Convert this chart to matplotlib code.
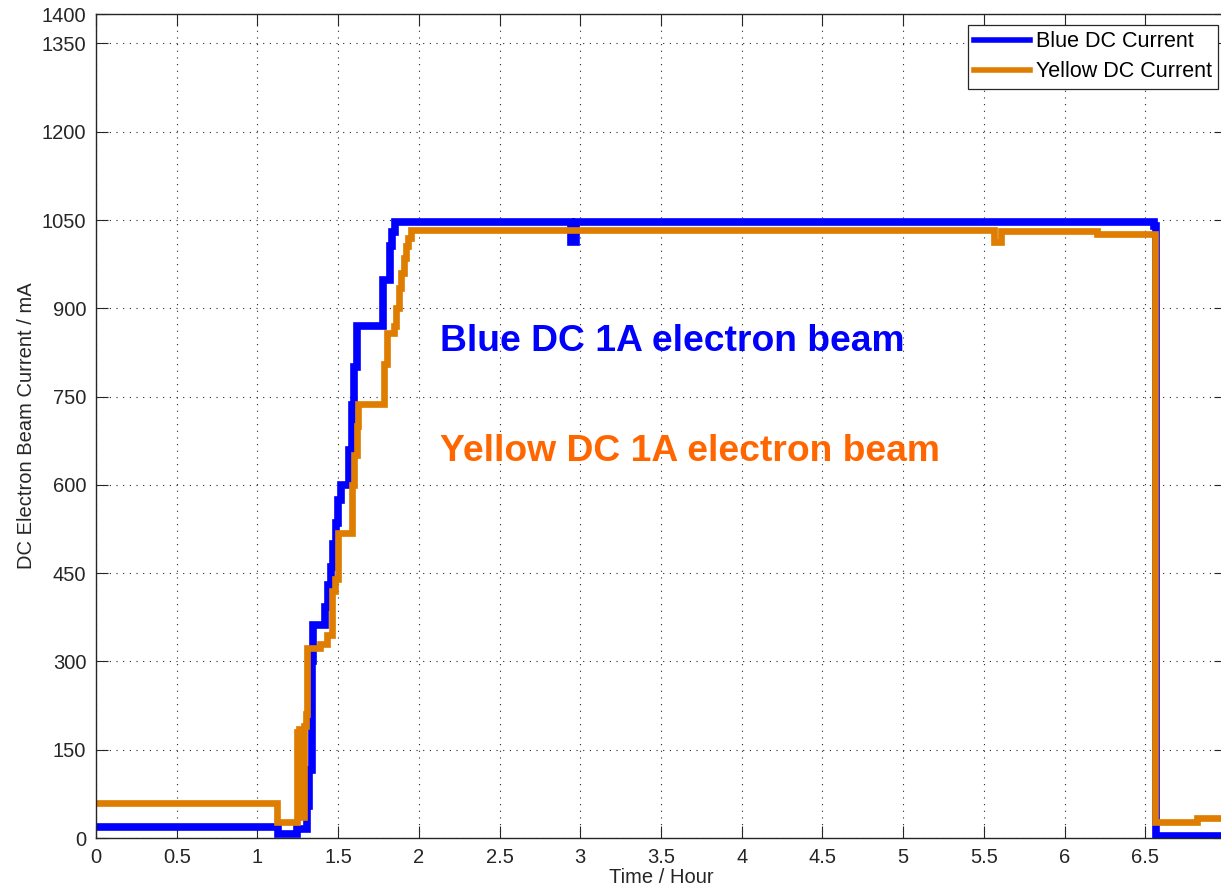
import matplotlib
matplotlib.use("Agg")
import matplotlib.pyplot as plt
import numpy as np

plt.rcParams['font.family'] = ['Liberation Sans', 'DejaVu Sans']

# Step breakpoints (hours) and current levels (mA) held from each breakpoint
blue_t = [0, 1.13, 1.245, 1.31, 1.32, 1.335, 1.345, 1.42, 1.44, 1.455, 1.47,
          1.485, 1.50, 1.515, 1.57, 1.585, 1.60, 1.615, 1.78, 1.82, 1.835,
          1.85, 2.945, 2.975, 6.555, 6.565, 7.0]
blue_ma = [18, 6, 16, 55, 115, 300, 362, 392, 430, 460, 500,
           535, 575, 600, 660, 735, 800, 870, 948, 1005, 1030,
           1047, 1013, 1047, 1040, 3, 3]

yellow_t = [0, 1.12, 1.245, 1.252, 1.258, 1.265, 1.272, 1.279, 1.286, 1.30,
            1.31, 1.39, 1.43, 1.46, 1.48, 1.50, 1.585, 1.60, 1.615, 1.625,
            1.785, 1.80, 1.845, 1.86, 1.875, 1.89, 1.905, 1.92, 1.935, 1.95,
            5.565, 5.605, 6.2, 6.56, 6.82, 7.0]
yellow_ma = [60, 28, 180, 40, 185, 50, 175, 35, 190, 210,
             322, 330, 345, 420, 440, 518, 600, 650, 700, 738,
             805, 858, 870, 900, 935, 960, 985, 1005, 1020, 1033,
             1012, 1031, 1027, 28, 34, 34]

x_ticks = np.arange(0, 7.0, 0.5)
y_ticks = [0, 150, 300, 450, 600, 750, 900, 1050, 1200, 1350, 1400]

fig = plt.figure(figsize=(12.21, 8.94), dpi=100)
ax = fig.add_axes([96 / 1221, 56 / 894, 1130 / 1221, 824 / 894])

ax.plot(blue_t, blue_ma, drawstyle='steps-post', color='#0000FF', lw=5.5,
        label='Blue DC Current', solid_joinstyle='miter')
ax.plot(yellow_t, yellow_ma, drawstyle='steps-post', color='#DE7D00', lw=4.8,
        label='Yellow DC Current', solid_joinstyle='miter')

ax.text(2.13, 844, 'Blue DC 1A electron beam', color='#0000FF',
        fontsize=26.8, fontweight='bold', va='center', ha='left')
ax.text(2.13, 656, 'Yellow DC 1A electron beam', color='#FF6600',
        fontsize=26.8, fontweight='bold', va='center', ha='left')

ax.set_xlim(0, 7.0)
ax.set_ylim(0, 1400)
ax.set_xticks(x_ticks)
ax.set_xticklabels([f'{v:g}' for v in x_ticks])
ax.set_yticks(y_ticks)
ax.tick_params(direction='in', length=8.5, width=0.8, top=True, right=True,
               labelsize=14.5, colors='#262626', pad=7)
ax.grid(True, color='#262626', linestyle=(0, (1, 5)), linewidth=0.8)
for s in ax.spines.values():
    s.set_linewidth(1.0)
    s.set_color('#262626')

ax.set_xlabel('Time / Hour', fontsize=14.5, color='#262626', labelpad=1)
ax.set_ylabel('DC Electron Beam Current / mA', fontsize=14.5, color='#262626',
              labelpad=4)

leg = ax.legend(loc='upper right', bbox_to_anchor=(1218 / 1221, 1 - 25 / 894),
                bbox_transform=fig.transFigure, borderaxespad=0,
                fontsize=15.5, fancybox=False, framealpha=1, edgecolor='#262626',
                handlelength=2.6, handletextpad=0.25, labelspacing=0.4,
                borderpad=0.3)
leg.get_frame().set_linewidth(0.9)
for line in leg.get_lines():
    line.set_linewidth(4)

fig.savefig('out.png', dpi=100)
